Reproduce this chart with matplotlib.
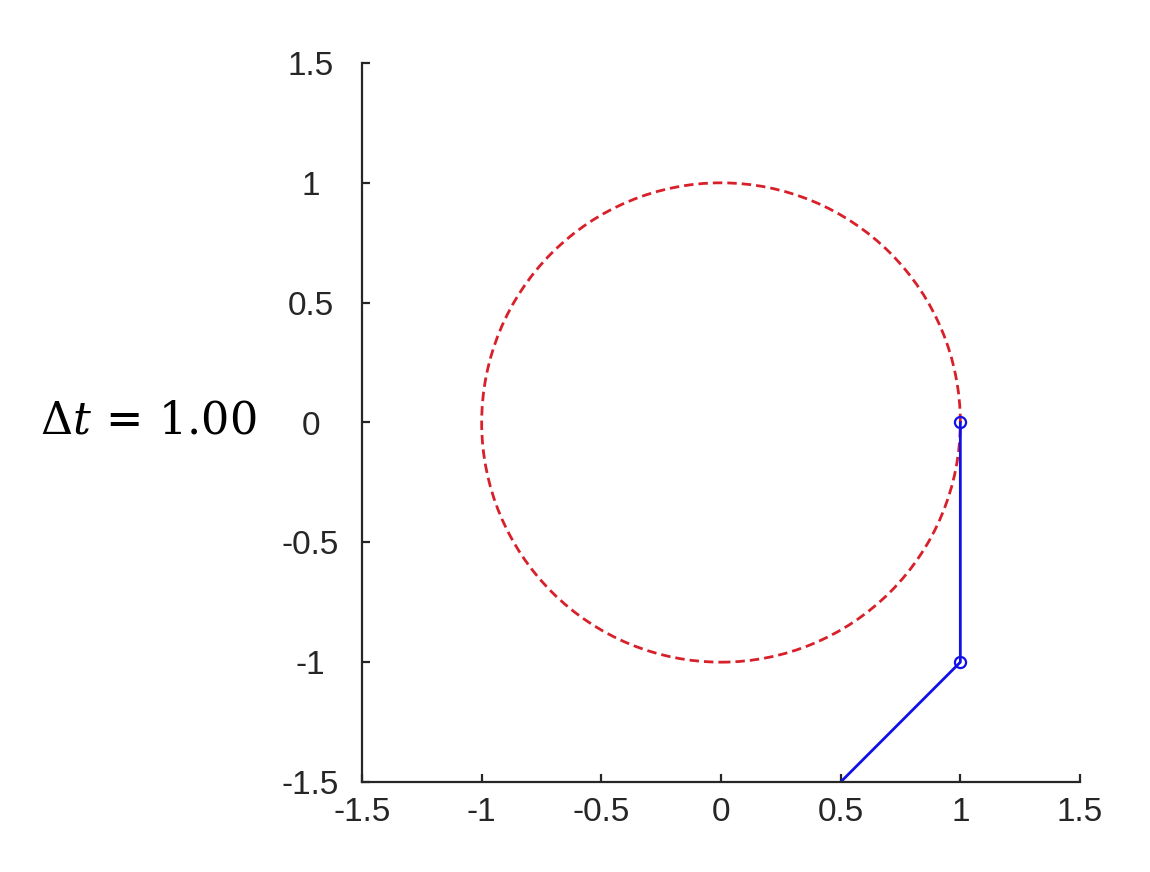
import matplotlib
matplotlib.use("Agg")
import matplotlib.pyplot as plt
from matplotlib.patches import Circle

# Data
circle_center = (0.0, 0.0)
circle_radius = 1.0
euler_x = [1.0, 1.0, 0.0]
euler_y = [0.0, -1.0, -2.0]
ticks = [-1.5, -1, -0.5, 0, 0.5, 1, 1.5]
tick_labels = ["-1.5", "-1", "-0.5", "0", "0.5", "1", "1.5"]
label_text = r"$\Delta t\,=\,1.00$"

plt.rcParams['font.family'] = ['Liberation Sans', 'DejaVu Sans']
plt.rcParams['mathtext.fontset'] = 'dejavuserif'

fig = plt.figure(figsize=(11.5, 8.72), dpi=100)
ax = fig.add_axes([362/1150, 1-782/872, (1080-362)/1150, (782-63)/872])

circ = Circle(circle_center, circle_radius, fill=False, edgecolor='#d8202a',
              linestyle=(0, (3.4, 1.8)), linewidth=2.0)
ax.add_patch(circ)
ax.plot(euler_x, euler_y, color='#1010e8', linewidth=2.0, marker='o',
        markersize=8, markerfacecolor='none', markeredgewidth=1.6)

ax.set_xlim(-1.5, 1.5)
ax.set_ylim(-1.5, 1.5)
ax.set_xticks(ticks)
ax.set_xticklabels(tick_labels)
ax.set_yticks(ticks)
ax.set_yticklabels(tick_labels)
for s in ['top', 'right']:
    ax.spines[s].set_visible(False)
for s in ['left', 'bottom']:
    ax.spines[s].set_linewidth(1.6)
    ax.spines[s].set_color('#262626')
ax.tick_params(direction='in', length=6, width=1.6, labelsize=24, colors='#262626')
ax.tick_params(axis='y', pad=37)
ax.tick_params(axis='x', pad=11)
for lbl in ax.get_yticklabels():
    lbl.set_horizontalalignment('center')

fig.text(148/1150, 1-422/872, label_text, fontsize=32, ha='center', va='center')

fig.savefig('out.png', dpi=100)
